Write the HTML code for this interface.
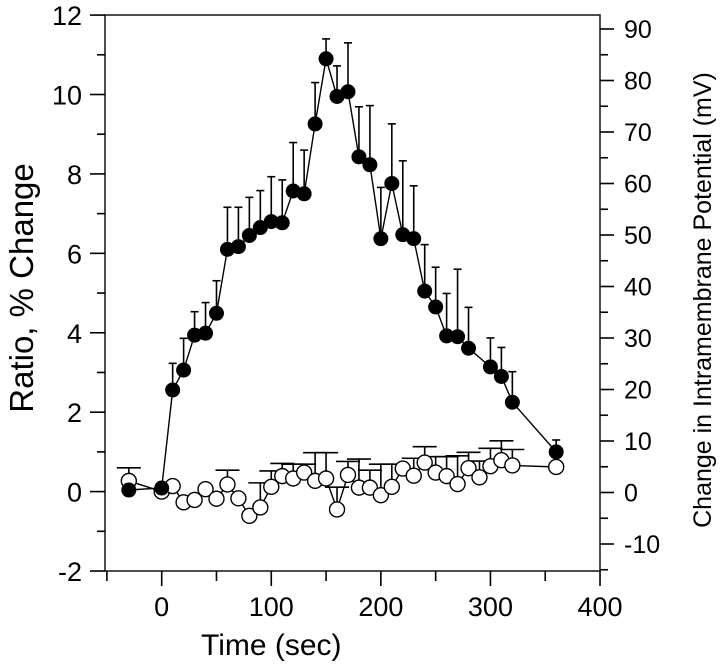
<!DOCTYPE html>
<html><head><meta charset="utf-8"><style>
body{margin:0;background:#fff}
svg{display:block;font-family:"Liberation Sans",Arial,sans-serif}
</style></head><body>
<svg id="chart" width="720" height="668" viewBox="0 0 720 668" xmlns="http://www.w3.org/2000/svg"></svg>
<script>
const times=[-30,0,10,20,30,40,50,60,70,80,90,100,110,120,130,140,150,160,170,180,190,200,210,220,230,240,250,260,270,280,290,300,310,320,360];
const ratioFilled=[0.04,0.09,2.56,3.06,3.94,3.99,4.49,6.1,6.17,6.45,6.65,6.8,6.77,7.57,7.5,9.26,10.9,9.95,10.07,8.43,8.23,6.37,7.76,6.47,6.37,5.05,4.65,3.92,3.9,3.61,null,3.14,2.9,2.25,1.0];
const ratioFilledErr=[null,null,3.23,3.86,4.53,4.76,5.31,7.16,7.16,7.41,7.58,7.93,7.85,8.79,8.6,10.3,11.4,10.72,11.3,9.69,9.72,7.66,9.26,8.33,7.7,6.22,5.65,4.99,5.6,4.64,null,3.87,3.63,3.02,1.3];
const ratioOpen=[0.27,0.0,0.14,-0.27,-0.21,0.06,-0.18,0.18,-0.17,-0.61,-0.4,0.12,0.39,0.33,0.48,0.27,0.33,-0.45,0.42,0.1,0.1,-0.09,0.12,0.58,0.4,0.73,0.48,0.39,0.19,0.59,0.36,0.64,0.79,0.66,0.62];
const ratioOpenErr=[0.6,null,null,null,null,null,null,0.54,null,null,0.22,0.52,0.71,0.69,0.69,0.98,0.98,0.11,0.76,0.82,0.54,0.69,0.69,null,0.84,1.13,0.88,0.88,0.9,0.99,0.77,1.09,1.28,1.06,null];
const xTicks=[0,100,200,300,400];
const yTicks=[-2,0,2,4,6,8,10,12];
const rTicks=[-10,0,10,20,30,40,50,60,70,80,90];

const NS="http://www.w3.org/2000/svg";
const svg=document.getElementById('chart');
const X0=105,X1=600,Y0=571,Y1=15;
const xs=v=>161.7+v*1.0958;
const ys=v=>491.6-v*39.71;
const rs=v=>29+(90-v)*5.15;
function el(t,a,p){const e=document.createElementNS(NS,t);for(const k in a)e.setAttribute(k,a[k]);(p||svg).appendChild(e);return e;}
const stroke={stroke:'#000','stroke-width':1.6,fill:'none'};

const frame=el('rect',{x:X0,y:Y1,width:X1-X0,height:Y0-Y1,fill:'none',stroke:'#222','stroke-width':1.6});



for(let v=-50;v<=400;v+=50){
  const t=el('line',{x1:xs(v),x2:xs(v),y1:Y0,y2:Y0+(v%100===0?15:10),...stroke});
  
  
}
xTicks.forEach(v=>{const t=el('text',{x:xs(v),y:616,'font-size':27,'text-anchor':'middle'});t.textContent=v;
  
  });
for(let v=-2;v<=12;v+=1){
  const t=el('line',{x1:X0,x2:X0-(v%2===0?15:8),y1:ys(v),y2:ys(v),...stroke});
  
  
}
yTicks.forEach(v=>{const t=el('text',{x:82,y:ys(v)+10,'font-size':27,'text-anchor':'end'});t.textContent=v;
  
  });
for(let v=-15;v<=90;v+=5){
  const t=el('line',{x1:X1,x2:X1+(v%10===0?14:8),y1:rs(v),y2:rs(v),...stroke});
  
  
}
rTicks.forEach(v=>{const t=el('text',{x:624,y:rs(v)+9,'font-size':25});t.textContent=v;
  
  });

let tt=el('text',{x:xs(100),y:655,'font-size':30,'text-anchor':'middle'});tt.textContent='Time (sec)';

tt=el('text',{x:0,y:0,'font-size':33,'text-anchor':'middle',transform:'translate(33,288) rotate(-90)'});tt.textContent='Ratio, % Change';

tt=el('text',{x:0,y:0,'font-size':25,'text-anchor':'middle',transform:'translate(711,300) rotate(-90)'});tt.textContent='Change in Intramembrane Potential (mV)';


function errs(vals,err,cw,name){
  times.forEach((t,i)=>{if(vals[i]==null||err[i]==null)return;
    const g=el('g',{});
    
    
    el('line',{x1:xs(t),x2:xs(t),y1:ys(vals[i]),y2:ys(err[i]),...stroke},g);
    el('line',{x1:xs(t)-cw,x2:xs(t)+cw,y1:ys(err[i]),y2:ys(err[i]),...stroke},g);
  });
}
function line(vals,name){
  const pts=[];times.forEach((t,i)=>{if(vals[i]!=null)pts.push(xs(t).toFixed(1)+','+ys(vals[i]).toFixed(1));});
  const p=el('polyline',{points:pts.join(' '),stroke:'#000','stroke-width':1.4,fill:'none'});
  
  
}
errs(ratioOpen,ratioOpenErr,12,'open-error-bar');
line(ratioOpen,'open-series-line');
times.forEach((t,i)=>{
  const c=el('circle',{cx:xs(t),cy:ys(ratioOpen[i]),r:7.5,fill:'#fff',stroke:'#000','stroke-width':1.4});
  
  
});
errs(ratioFilled,ratioFilledErr,4,'filled-error-bar');
line(ratioFilled,'filled-series-line');
times.forEach((t,i)=>{if(ratioFilled[i]==null)return;
  const c=el('circle',{cx:xs(t),cy:ys(ratioFilled[i]),r:7.5,fill:'#000'});
  
  
});
</script>
</body></html>
